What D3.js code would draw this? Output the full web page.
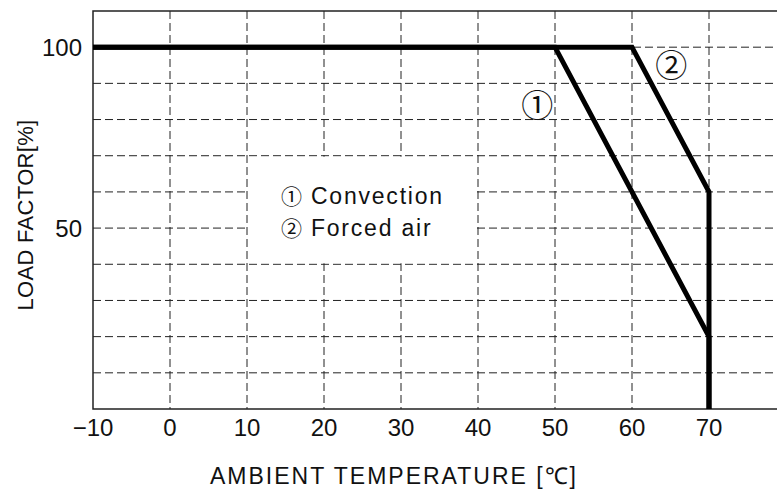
<!DOCTYPE html>
<meta charset="utf-8">
<style>
body { margin: 0; background: #fff; }
svg { font-family: "Liberation Sans", Arial, sans-serif; fill: #111; }
.grid line { stroke: #222; stroke-width: 1; stroke-dasharray: 8,4; }
.curve { fill: none; stroke: #000; stroke-width: 5; stroke-linejoin: miter; }
.cjk { font-family: "Noto Sans CJK KR", sans-serif; }
</style>
<svg></svg>
<script src="https://cdn.jsdelivr.net/npm/d3@7"></script>
<script>
var convTemp = [-10, 50, 70, 70],
    convLoad = [100, 100, 20, 0],
    airTemp = [-10, 60, 70, 70],
    airLoad = [100, 100, 60, 0];
var xTicks = [-10, 0, 10, 20, 30, 40, 50, 60, 70],
    yTicks = [50, 100],
    xGrid = [0, 10, 20, 30, 40, 50, 60, 70],
    yGrid = [10, 20, 30, 40, 50, 60, 70, 80, 90, 100];
var legendMarks = ["\u2460", "\u2461"],
    legendNames = ["Convection", "Forced air"];

var W = 777, H = 490,
    margin = {top: 11, left: 93, bottom: 81};

var svg = d3.select("svg").attr("width", W).attr("height", H);

var x = d3.scaleLinear().domain([-10, 80]).range([margin.left, margin.left + 90 * 7.7]),
    y = d3.scaleLinear().domain([0, 110]).range([H - margin.bottom, margin.top]);

var g = svg.append("g").attr("class", "grid");
g.selectAll(".v").data(xGrid).enter().append("line")
    .attr("x1", function(d) { return x(d); }).attr("x2", function(d) { return x(d); })
    .attr("y1", y(110)).attr("y2", y(0));
g.selectAll(".h").data(yGrid).enter().append("line")
    .attr("x1", x(-10)).attr("x2", W)
    .attr("y1", function(d) { return y(d); }).attr("y2", function(d) { return y(d); });

// blank box behind the legend
svg.append("rect")
    .attr("x", x(10) + 1).attr("y", y(70) + 1)
    .attr("width", x(40) - x(10) - 2).attr("height", y(40) - y(70) - 2)
    .attr("fill", "#fff");

// frame: left, top, bottom
svg.append("path")
    .attr("d", "M" + W + "," + y(110) + "H" + x(-10) + "V" + y(0) + "H" + W)
    .attr("fill", "none").attr("stroke", "#222").attr("stroke-width", 1.5);

var line = d3.line().x(function(d) { return x(d[0]); }).y(function(d) { return y(d[1]); });
svg.append("path").attr("class", "curve")
    .attr("d", line(d3.zip(airTemp, airLoad)));
svg.append("path").attr("class", "curve")
    .attr("d", line(d3.zip(convTemp, convLoad)));

svg.selectAll(".xt").data(xTicks).enter().append("text")
    .attr("x", function(d) { return x(d); }).attr("y", y(0) + 27)
    .attr("text-anchor", "middle").attr("font-size", 24)
    .text(function(d) { return d < 0 ? "\u2212" + (-d) : d; });
svg.selectAll(".yt").data(yTicks).enter().append("text")
    .attr("x", x(-10) - 11).attr("y", function(d) { return y(d); })
    .attr("dy", "0.36em")
    .attr("text-anchor", "end").attr("font-size", 24)
    .text(function(d) { return d; });

svg.append("text")
    .attr("x", 394).attr("y", 484)
    .attr("text-anchor", "middle").attr("font-size", 23)
    .attr("letter-spacing", 2)
    .text("AMBIENT TEMPERATURE [\u2103]");
svg.append("text")
    .attr("transform", "translate(33," + 215 + ") rotate(-90)")
    .attr("text-anchor", "middle").attr("font-size", 22)
    .attr("letter-spacing", 0.3)
    .text("LOAD FACTOR[%]");

var lg = svg.selectAll(".lg").data(legendNames).enter().append("text")
    .attr("x", x(14.4)).attr("y", function(d, i) { return y(56.7) + i * 32; })
    .attr("font-size", 23).attr("letter-spacing", 1.8);
lg.append("tspan").attr("class", "cjk").attr("font-size", 21).attr("letter-spacing", 0)
    .text(function(d, i) { return legendMarks[i]; });
lg.append("tspan").attr("dx", 9)
    .text(function(d) { return d; });

svg.append("text").attr("class", "cjk").attr("x", x(47.7)).attr("y", y(84)).attr("dy", "0.38em")
    .attr("text-anchor", "middle").attr("font-size", 32).text(legendMarks[0]);
svg.append("text").attr("class", "cjk").attr("x", x(65.1)).attr("y", y(95)).attr("dy", "0.38em")
    .attr("text-anchor", "middle").attr("font-size", 32).text(legendMarks[1]);
</script>
